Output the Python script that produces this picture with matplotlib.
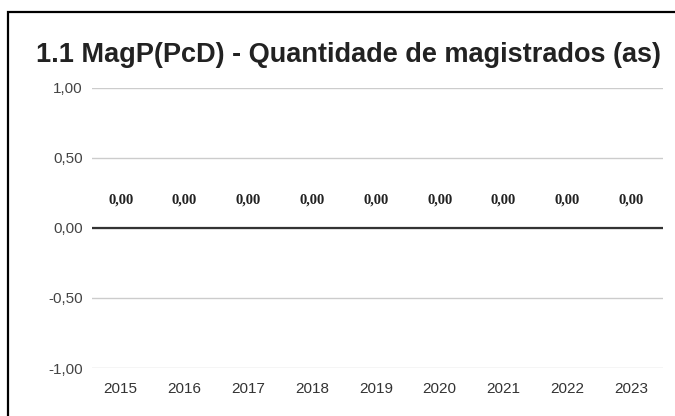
import matplotlib.pyplot as plt
from matplotlib.patches import Rectangle

# data
years = ['2015', '2016', '2017', '2018', '2019', '2020', '2021', '2022', '2023']
values = [0, 0, 0, 0, 0, 0, 0, 0, 0]
yticks = [-1.0, -0.5, 0.0, 0.5, 1.0]

W, H = 675, 416
fig = plt.figure(figsize=(W / 100, H / 100), dpi=100)
fig.patch.set_facecolor('white')

# outer frame (right and bottom edges are cropped off in the original)
fig.patches.append(Rectangle((8 / W, -0.1), 1.2, 1 - 12 / H + 0.1, transform=fig.transFigure,
                             fill=False, edgecolor='black', linewidth=1.6))

ax = fig.add_axes([92 / W, 1 - 368 / H, (663 - 92) / W, (368 - 88) / H])
x = range(len(years))
ax.bar(x, values, width=0.6, color='#3366cc')
ax.set_xlim(-0.45, len(years) - 0.5)
ax.set_ylim(-1, 1)
ax.set_yticks(yticks)
ax.set_yticklabels([f'{v:.2f}'.replace('.', ',') for v in yticks])
ax.set_xticks(list(x))
ax.set_xticklabels(years)
ax.grid(axis='y', color='#cccccc', linewidth=1)
ax.axhline(0, color='#333333', linewidth=1.6)
ax.set_axisbelow(True)
for s in ax.spines.values():
    s.set_visible(False)
ax.tick_params(axis='y', length=0, labelsize=11, labelcolor='#444444', pad=6.5)
ax.tick_params(axis='x', length=0, labelsize=11, labelcolor='#333333', pad=10)
for lab in ax.get_xticklabels() + ax.get_yticklabels():
    lab.set_fontfamily('Liberation Sans')

for i, v in enumerate(values):
    ax.annotate(f'{v:.2f}'.replace('.', ','), (i, v), xytext=(0, 20), textcoords='offset points',
                ha='center', va='center', fontsize=10.5, fontweight='bold',
                fontfamily='Liberation Serif', color='#222222')

fig.text(36 / W, 1 - 55 / H, '1.1 MagP(PcD) - Quantidade de magistrados (as)',
         fontsize=19.5, fontweight='bold', fontfamily='Liberation Sans', color='#222222',
         ha='left', va='center')

fig.savefig('out.png', dpi=100)
